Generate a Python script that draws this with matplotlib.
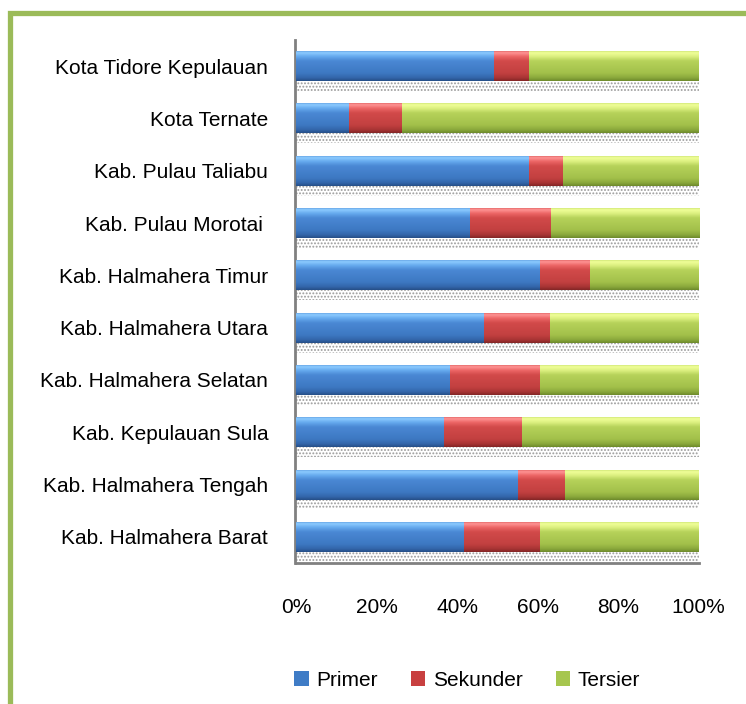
import numpy as np
import matplotlib
matplotlib.use("Agg")
import matplotlib.pyplot as plt
from matplotlib.patches import Rectangle, Patch
from matplotlib.colors import to_rgb

categories = ["Kota Tidore Kepulauan", "Kota Ternate", "Kab. Pulau Taliabu",
              "Kab. Pulau Morotai ", "Kab. Halmahera Timur", "Kab. Halmahera Utara",
              "Kab. Halmahera Selatan", "Kab. Kepulauan Sula", "Kab. Halmahera Tengah",
              "Kab. Halmahera Barat"]
primer = [49.2, 13.2, 57.8, 43.3, 60.6, 46.7, 38.2, 36.8, 55.1, 41.6]
sekunder = [8.6, 13.2, 8.5, 19.9, 12.4, 16.4, 22.4, 19.2, 11.8, 19.0]
tersier = [42.2, 73.6, 33.7, 36.8, 27.0, 36.9, 39.4, 44.0, 33.1, 39.4]
series_names = ["Primer", "Sekunder", "Tersier"]
xticks = [0, 20, 40, 60, 80, 100]
xticklabels = ["0%", "20%", "40%", "60%", "80%", "100%"]

base_colors = ["#3F7CC6", "#C84040", "#A6C64E"]
grad_stops = [
    ["#5A96DA", "#8CCBFF", "#66AAEE", "#4A88D4", "#3D78C2", "#3366AA", "#264F88"],
    ["#D85A5A", "#FF9494", "#EC6666", "#D24A4A", "#C24040", "#A83434", "#842626"],
    ["#C4DC6C", "#F0FF98", "#DCF080", "#B6D25A", "#A2C04A", "#8AA83C", "#6E8A2C"],
]
stop_pos = [0.0, 0.08, 0.2, 0.35, 0.75, 0.9, 1.0]

plt.rcParams['font.family'] = ['Liberation Sans', 'DejaVu Sans']
plt.rcParams['hatch.linewidth'] = 0.9
FS = 15

fig = plt.figure(figsize=(7.46, 7.04), dpi=100)
ax = fig.add_axes([296 / 746, 141 / 704, 402.7 / 746, 523 / 704])

n = len(categories)
y = np.arange(n)
bh = 0.574
data = np.array([primer, sekunder, tersier], dtype=float)
totals = data.sum(axis=0)
pct = data / totals * 100

# shadow
ax.barh(y + bh / 2 + 0.09, 100, height=0.2, left=0, facecolor='none',
        edgecolor='#9A9A9A', hatch='.....', linewidth=0, zorder=1)

left = np.zeros(n)
containers = []
for i in range(3):
    c = ax.barh(y, pct[i], left=left, height=bh, color=base_colors[i],
                edgecolor='none', zorder=2)
    containers.append(c)
    left = left + pct[i]

# gradient overlay
N = 64
tt = np.linspace(0, 1, N)
for i, c in enumerate(containers):
    cols = np.array([to_rgb(s) for s in grad_stops[i]])
    grad = np.stack([np.interp(tt, stop_pos, cols[:, k]) for k in range(3)], axis=1)
    img = grad[:, None, :]
    for p in c.patches:
        x0, y0, w, h = p.get_x(), p.get_y(), p.get_width(), p.get_height()
        im = ax.imshow(img, extent=[x0, x0 + w, y0 + h, y0], origin='upper',
                       aspect='auto', interpolation='bilinear', zorder=3)
        im.set_clip_path(p)

ax.set_xlim(0, 100)
ax.set_ylim(n - 0.5, -0.5)
ax.set_xticks(xticks)
ax.set_xticklabels(xticklabels)
ax.set_yticks(y)
ax.set_yticklabels(categories)
ax.tick_params(axis='both', length=0, labelsize=FS, colors='black')
ax.tick_params(axis='x', pad=25)
ax.tick_params(axis='y', pad=19)
for s in ['top', 'right']:
    ax.spines[s].set_visible(False)
for s in ['left', 'bottom']:
    ax.spines[s].set_color('#808080')
    ax.spines[s].set_linewidth(2)
ax.spines['left'].set_position(('outward', 1))

handles = [Patch(facecolor=base_colors[i], edgecolor='none') for i in range(3)]
fig.legend(handles, series_names, loc='center', bbox_to_anchor=(467 / 746, 24 / 704),
           ncol=3, frameon=False, fontsize=FS, handlelength=0.7, handleheight=0.7,
           handletextpad=0.35, columnspacing=1.6)

fig.patches.append(Rectangle((10.3 / 746, -0.1), 2, 0.9815 + 0.1, transform=fig.transFigure,
                             fill=False, edgecolor='#9BBB59', linewidth=3.8))

fig.savefig("out.png", dpi=100, facecolor='white')
